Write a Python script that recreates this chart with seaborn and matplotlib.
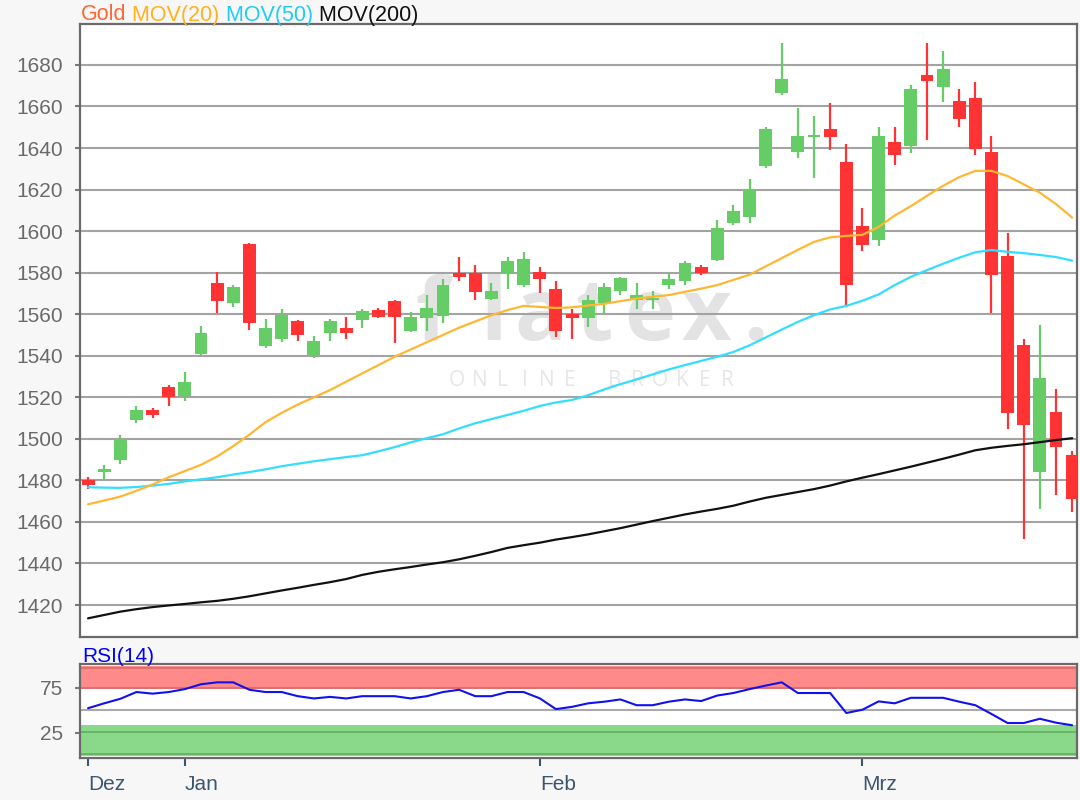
import matplotlib
matplotlib.use("Agg")
import matplotlib.pyplot as plt
import numpy as np
import pandas as pd
import seaborn as sns

# ---------------- data ----------------
day = list(range(62))
open_ = [1480, 1484, 1490, 1509, 1514, 1525, 1520.5, 1541, 1575, 1565.5,
         1594, 1544.5, 1548, 1556.5, 1540.5, 1551, 1553.5, 1557, 1562, 1566.5,
         1552, 1558, 1559, 1580, 1580, 1567.5, 1580, 1574, 1580.5, 1572,
         1560, 1558, 1565.5, 1571, 1567, 1567, 1574, 1576, 1582.5, 1586,
         1604, 1607, 1631.5, 1666.5, 1638, 1645.5, 1649, 1633.5, 1602.5, 1595.5,
         1643, 1641, 1675, 1669.5, 1662.5, 1664, 1638, 1588, 1545, 1484,
         1513, 1492]
high = [1481.5, 1487.5, 1502, 1516, 1515, 1526, 1532, 1554.5, 1580.5, 1574,
        1594.5, 1557.5, 1562.5, 1557, 1549.5, 1557.5, 1558.5, 1562.5, 1563, 1567,
        1561, 1569, 1577, 1587.5, 1583.5, 1575, 1587.5, 1590, 1582.5, 1576,
        1562.5, 1569, 1575, 1578, 1575, 1571, 1580, 1585.5, 1583.5, 1605.5,
        1612.5, 1625, 1650, 1690.5, 1659.5, 1655.5, 1661.5, 1642, 1611, 1650,
        1650, 1670.5, 1690.5, 1686.5, 1668.5, 1672, 1646, 1599, 1548, 1555,
        1524, 1494]
low = [1476, 1480.5, 1488, 1507.5, 1510, 1516, 1518, 1540, 1560.5, 1563.5,
       1552.5, 1543.5, 1546.5, 1547, 1539, 1547, 1548, 1553.5, 1558, 1546,
       1551.5, 1552, 1556, 1576, 1567, 1567, 1572, 1573, 1570, 1549,
       1548, 1554, 1560.5, 1569, 1562.5, 1562.5, 1572, 1574, 1579, 1585.5,
       1603, 1604, 1630.5, 1665.5, 1635, 1625.5, 1639, 1563.5, 1590.5, 1593,
       1632, 1637.5, 1644, 1662, 1650, 1636.5, 1560.5, 1504.5, 1452, 1466,
       1473, 1465]
close = [1478, 1485.5, 1500, 1514, 1511.5, 1520, 1527.5, 1551, 1566.5, 1573,
         1556, 1553.5, 1559.5, 1550, 1547, 1556.5, 1551, 1561.5, 1558.5, 1558.5,
         1558.5, 1563, 1574, 1578, 1570.5, 1571, 1585.5, 1586.5, 1577, 1552,
         1558, 1567, 1573, 1577.5, 1569, 1568, 1577, 1584.5, 1580, 1601.5,
         1609.5, 1620.5, 1649, 1673, 1646, 1646.5, 1645.5, 1574, 1593.5, 1646,
         1636.5, 1668.5, 1672.5, 1678, 1654, 1639.5, 1579, 1512.5, 1506.5, 1529.5,
         1496, 1471]
mov20 = [1468.5, 1470.3, 1472.2, 1475, 1478, 1481.5, 1484.5, 1487.5, 1491.5, 1496.5,
         1502, 1508, 1512.5, 1516.5, 1520, 1523.5, 1527.5, 1531.5, 1535.5, 1539.5,
         1543, 1546.5, 1550, 1553.5, 1556.5, 1559.5, 1562, 1564, 1563.5, 1563,
         1563.3, 1564.2, 1565, 1566.3, 1567.5, 1568.4, 1569.2, 1570.8, 1572.3, 1574,
         1576.5, 1579, 1583, 1587, 1591, 1594.8, 1597, 1597.7, 1598.2, 1602,
         1607.5, 1612, 1617, 1621.8, 1626, 1629, 1629, 1626.5, 1622.5, 1618.5,
         1613, 1606.5]
mov50 = [1476.7, 1476.5, 1476.4, 1476.8, 1477.5, 1478.3, 1479.5, 1480.5, 1481.5, 1482.8,
         1484, 1485.3, 1486.8, 1488, 1489.2, 1490.2, 1491.2, 1492.1, 1494, 1496,
         1498.3, 1500.3, 1502.2, 1505, 1507.5, 1509.5, 1511.5, 1513.5, 1515.8, 1517.5,
         1518.7, 1521, 1523.8, 1526.3, 1528.6, 1531, 1533.4, 1535.5, 1537.5, 1539.5,
         1541.8, 1545, 1548.8, 1552.6, 1556.3, 1559.5, 1562.3, 1564, 1566.5, 1569.5,
         1574, 1578, 1581.2, 1584.3, 1587.2, 1589.8, 1590.9, 1590, 1589.4, 1588.5,
         1587.5, 1585.8]
mov200 = [1413.6, 1415.2, 1416.8, 1418, 1419, 1419.8, 1420.5, 1421.3, 1422, 1423,
          1424.2, 1425.6, 1427, 1428.3, 1429.7, 1431, 1432.5, 1434.5, 1436, 1437.2,
          1438.3, 1439.5, 1440.6, 1442, 1443.7, 1445.5, 1447.5, 1448.8, 1450, 1451.5,
          1452.7, 1454, 1455.5, 1457, 1458.7, 1460.4, 1462, 1463.6, 1465, 1466.3,
          1467.8, 1469.8, 1471.6, 1473, 1474.4, 1475.8, 1477.5, 1479.5, 1481.3, 1483,
          1484.8, 1486.6, 1488.5, 1490.4, 1492.4, 1494.5, 1495.7, 1496.6, 1497.4, 1498.4,
          1499.4, 1500.3]
rsi14 = [52.1, 57.5, 62.5, 70, 68.2, 70, 73.2, 78.6, 80.7, 80.7,
         72.5, 70, 70, 65.4, 62.9, 64.6, 62.9, 65.4, 65.4, 65.4,
         62.9, 65.4, 70, 72.5, 65.4, 65.4, 70, 70, 63, 51.1,
         53.6, 57.5, 59.3, 61.8, 55.4, 55.4, 59.3, 61.8, 60, 66.1,
         68.9, 73.2, 77.1, 80.7, 68.9, 68.9, 68.9, 46.8, 50.4, 59.6,
         57.5, 63.6, 63.6, 63.6, 59.3, 55.4, 45.7, 35.7, 35.7, 40.4,
         36.1, 33.2]
price_ticks = list(range(1420, 1681, 20))
rsi_ticks = [25, 75]
month_labels = ["Dez", "Jan", "Feb", "Mrz"]
month_pos = [0, 6, 28, 48]
header_parts = ["Gold", " MOV(20)", " MOV(50)", " MOV(200)"]
header_colors = ["#FF6633", "#FFB21E", "#22CCEE", "#111111"]

df = pd.DataFrame({"day": day, "open": open_, "high": high, "low": low,
                   "close": close, "mov20": mov20, "mov50": mov50,
                   "mov200": mov200, "rsi": rsi14})

# ---------------- style ----------------
sns.set_theme(style="white")
plt.rcParams["font.family"] = ["Liberation Sans", "DejaVu Sans"]

BG = "#F7F7F7"
GREEN = "#66CC66"
RED = "#FF3333"
SPINE = "#6A6A6A"
TICKLBL = "#6A6A6A"
XLBL = "#3D5670"

fig = plt.figure(figsize=(10.8, 8), dpi=100, facecolor=BG)
ax = fig.add_axes([80 / 1080, 1 - 637 / 800, 997 / 1080, 613 / 800])
ax2 = fig.add_axes([80 / 1080, 1 - 758 / 800, 997 / 1080, 94 / 800])

for a in (ax, ax2):
    a.set_facecolor("white")
    for s in a.spines.values():
        s.set_color(SPINE)
        s.set_linewidth(1.6)
        s.set_visible(True)

# ---------------- main panel ----------------
ax.set_xlim(-0.5, 61.3)
ax.set_ylim(1404.6, 1699.7)
for yv in price_ticks:
    ax.axhline(yv, color="#A3A3A3", lw=1.5, zorder=1)

# watermark
wm_chars = list("flatex.")
wm_x = [432, 493, 540, 595, 650, 706, 755]
for ch, px in zip(wm_chars, wm_x):
    ax.text((px - 80) / 997, (637 - 340) / 613, ch, transform=ax.transAxes,
            ha="center", va="baseline", fontsize=62, fontweight="bold",
            family=["Open Sans", "DejaVu Sans"], color="#E3E3E3", zorder=0.5)
for k, ch in enumerate("ONLINE BROKER"):
    px = 457 + 22.5 * k
    ax.text((px - 80) / 997, (637 - 386) / 613, ch, transform=ax.transAxes,
            ha="center", va="baseline", fontsize=15,
            family=["Open Sans", "DejaVu Sans"], color="#E6E6E6", zorder=0.5)

up = df["close"] >= df["open"]
colors = np.where(up, GREEN, RED)
ax.vlines(df["day"], df["low"], df["high"], colors=colors, lw=1.6, zorder=3)
body_bottom = np.minimum(df["open"], df["close"])
body_h = np.maximum(np.abs(df["close"] - df["open"]), 0.9)
ax.bar(df["day"], body_h, bottom=body_bottom, width=0.8, color=colors,
       linewidth=0, zorder=4)

sns.lineplot(data=df, x="day", y="mov200", ax=ax, color="#111111", lw=1.6, zorder=5)
sns.lineplot(data=df, x="day", y="mov50", ax=ax, color="#33DDFF", lw=1.6, zorder=5)
sns.lineplot(data=df, x="day", y="mov20", ax=ax, color="#FFB733", lw=1.6, zorder=5)
ax.set_xlabel("")
ax.set_ylabel("")
ax.set_xticks([])
ax.set_yticks(price_ticks)
ax.tick_params(axis="y", left=True, length=3.5, width=1.5, color="#7A7A7A",
               labelcolor=TICKLBL, labelsize=15, pad=9)

# header (chained coloured texts)
prev = fig.text(81 / 1080, 1 - 20.5 / 800, header_parts[0], color=header_colors[0],
                fontsize=15.5, va="baseline")
for txt, col in zip(header_parts[1:], header_colors[1:]):
    prev = ax.annotate(txt, xy=(1, 0), xycoords=prev, va="bottom", ha="left",
                       fontsize=15.5, color=col, annotation_clip=False)

# ---------------- RSI panel ----------------
ax2.set_xlim(-0.5, 61.3)
ax2.set_ylim(-3, 101)
ax2.axhspan(72.8, 98.7, color="#FF8A8A", lw=0, zorder=0.5)
ax2.axhspan(-1.3, 33.1, color="#8AD98A", lw=0, zorder=0.5)
for yv in (74.7, 96.1):
    ax2.axhline(yv, color="#D86A6A", lw=1.2, zorder=0.8)
for yv in (25.8, 1.3):
    ax2.axhline(yv, color="#5FAF5F", lw=1.2, zorder=0.8)
ax2.axhline(50, color="#AAAAAA", lw=1.5, zorder=0.8)
sns.lineplot(data=df, x="day", y="rsi", ax=ax2, color="#1010F0", lw=1.5, zorder=3)
ax2.set_xlabel("")
ax2.set_ylabel("")
ax2.set_yticks(rsi_ticks)
ax2.set_xticks(month_pos)
ax2.set_xticklabels(month_labels)
for lbl in ax2.get_xticklabels():
    lbl.set_ha("left")
ax2.tick_params(axis="y", left=True, length=3.5, width=1.5, color="#7A7A7A",
                labelcolor=TICKLBL, labelsize=15, pad=9)
ax2.tick_params(axis="x", bottom=True, length=6, width=1.5, color=XLBL,
                labelcolor=XLBL, labelsize=15, pad=6)
fig.text(82 / 1080, 1 - 662.5 / 800, "RSI(14)", color="#0000FF", fontsize=15,
         va="baseline")

fig.savefig("out.png", dpi=100, facecolor=BG)
